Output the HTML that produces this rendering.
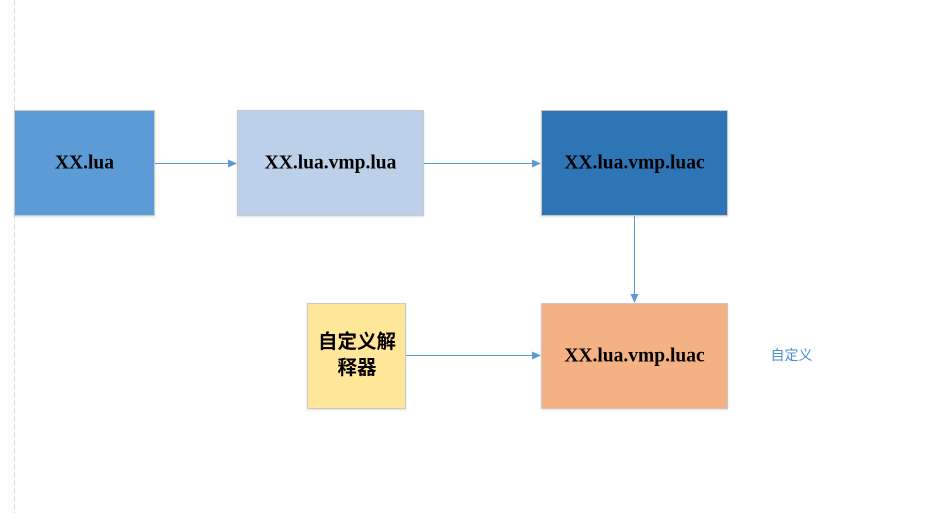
<!DOCTYPE html>
<html>
<head>
<meta charset="utf-8">
<style>
  html, body { margin: 0; padding: 0; background: #ffffff; }
  body { width: 946px; height: 513px; overflow: hidden; }
  svg { display: block; }
</style>
</head>
<body>
<svg width="946" height="513" viewBox="0 0 946 513" xmlns="http://www.w3.org/2000/svg">
  <defs>
    <filter id="sh" x="-10%" y="-10%" width="120%" height="130%">
      <feDropShadow dx="0" dy="1" stdDeviation="1" flood-color="#000" flood-opacity="0.12"/>
    </filter>
  </defs>
  <!-- left dashed guide line -->
  <line x1="14.5" y1="0" x2="14.5" y2="513" stroke="#dcdcdc" stroke-width="1" stroke-dasharray="6,2"/>

  <!-- boxes -->
  <rect x="14.5" y="110.5" width="140" height="105" fill="#5b9bd5" stroke="#c9c9c9" stroke-width="1" filter="url(#sh)"/>
  <rect x="237.5" y="110.5" width="186" height="105" fill="#bdd0e9" stroke="#c9c9c9" stroke-width="1" filter="url(#sh)"/>
  <rect x="541.5" y="110.5" width="186" height="105" fill="#2e75b6" stroke="#c9c9c9" stroke-width="1" filter="url(#sh)"/>
  <rect x="307.5" y="303.5" width="98" height="105" fill="#ffe699" stroke="#c9c9c9" stroke-width="1" filter="url(#sh)"/>
  <rect x="541.5" y="303.5" width="186" height="105" fill="#f4b183" stroke="#c9c9c9" stroke-width="1" filter="url(#sh)"/>

  <!-- connectors -->
  <g stroke="#5b9bd5" stroke-width="1" fill="none">
    <line x1="155" y1="163.5" x2="229" y2="163.5"/>
    <line x1="424" y1="163.5" x2="533" y2="163.5"/>
    <line x1="634.5" y1="216" x2="634.5" y2="295"/>
    <line x1="406" y1="355.5" x2="533" y2="355.5"/>
  </g>
  <g fill="#5b9bd5">
    <polygon points="237,163.5 228,159.5 228,167.5"/>
    <polygon points="541,163.5 532,159.5 532,167.5"/>
    <polygon points="634.5,303 630.5,294 638.5,294"/>
    <polygon points="541,355.5 532,351.5 532,359.5"/>
  </g>

  <!-- labels -->
  <g font-family="'Liberation Serif', serif" font-weight="bold" font-size="19.5" fill="#000" text-anchor="middle">
    <text x="84.5" y="168.5">XX.lua</text>
    <text x="330.5" y="168.5">XX.lua.vmp.lua</text>
    <text x="634.5" y="168.5">XX.lua.vmp.luac</text>
    <text x="634.5" y="361.5">XX.lua.vmp.luac</text>
  </g>
  <g font-family="'Liberation Sans', 'Noto Sans CJK SC', sans-serif" font-weight="bold" font-size="19.5" fill="#000" text-anchor="middle">
    <text x="357" y="348">自定义解</text>
    <text x="357" y="374">释器</text>
  </g>
  <text x="791.5" y="360" font-family="'Liberation Sans', 'Noto Sans CJK SC', sans-serif" font-size="14" fill="#4a8dd0" text-anchor="middle">自定义</text>
</svg>
</body>
</html>
